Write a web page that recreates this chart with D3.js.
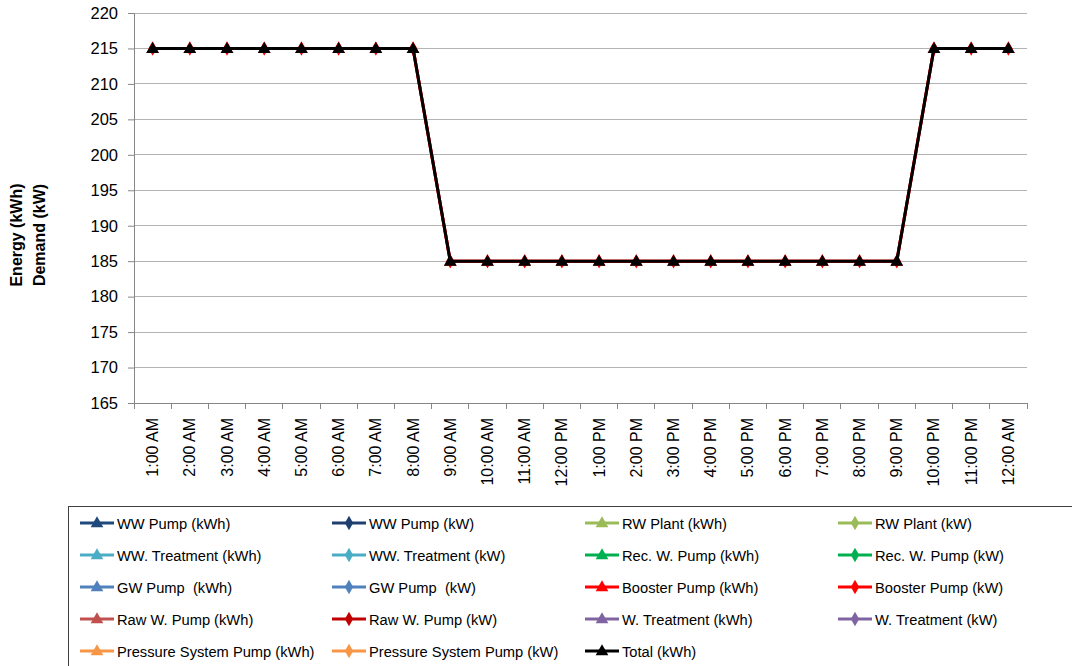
<!DOCTYPE html>
<html>
<head>
<meta charset="utf-8">
<script src="https://cdn.jsdelivr.net/npm/d3@7/dist/d3.min.js"></script>
<style>
  html, body { margin: 0; padding: 0; background: #fff; }
  svg { display: block; }
  text { font-family: "Liberation Sans", Arial, sans-serif; fill: #000; white-space: pre; }
</style>
</head>
<body>
<svg id="chart" width="1072" height="666"></svg>
<script>
// Hourly categories
const hours = ["1:00 AM","2:00 AM","3:00 AM","4:00 AM","5:00 AM","6:00 AM","7:00 AM","8:00 AM",
  "9:00 AM","10:00 AM","11:00 AM","12:00 PM","1:00 PM","2:00 PM","3:00 PM","4:00 PM",
  "5:00 PM","6:00 PM","7:00 PM","8:00 PM","9:00 PM","10:00 PM","11:00 PM","12:00 AM"];

const yTicks = [165,170,175,180,185,190,195,200,205,210,215,220];

// Series values (24 hourly values each)
const zeros = [0,0,0,0,0,0,0,0,0,0,0,0,0,0,0,0,0,0,0,0,0,0,0,0];
const wwPumpKWh = zeros, wwPumpKW = zeros;
const rwPlantKWh = zeros, rwPlantKW = zeros;
const wwTreatKWh = zeros, wwTreatKW = zeros;
const recPumpKWh = zeros, recPumpKW = zeros;
const gwPumpKWh = zeros, gwPumpKW = zeros;
const boosterKWh = [215,215,215,215,215,215,215,215,185,185,185,185,185,185,185,185,185,185,185,185,185,215,215,215];
const boosterKW  = [215,215,215,215,215,215,215,215,185,185,185,185,185,185,185,185,185,185,185,185,185,215,215,215];
const rawPumpKWh = zeros, rawPumpKW = zeros;
const wTreatKWh = zeros, wTreatKW = zeros;
const pressPumpKWh = zeros, pressPumpKW = zeros;
const totalKWh = [215,215,215,215,215,215,215,215,185,185,185,185,185,185,185,185,185,185,185,185,185,215,215,215];

const seriesNames = ["WW Pump (kWh)","WW Pump (kW)","RW Plant (kWh)","RW Plant (kW)",
  "WW. Treatment (kWh)","WW. Treatment (kW)","Rec. W. Pump (kWh)","Rec. W. Pump (kW)",
  "GW Pump  (kWh)","GW Pump  (kW)","Booster Pump (kWh)","Booster Pump (kW)",
  "Raw W. Pump (kWh)","Raw W. Pump (kW)","W. Treatment (kWh)","W. Treatment (kW)",
  "Pressure System Pump (kWh)","Pressure System Pump (kW)","Total (kWh)"];
const seriesColors = ["#1F497D","#1F3F6F","#9BBB59","#9BBB59",
  "#4BACC6","#4BACC6","#00B050","#00B050",
  "#4F81BD","#4F81BD","#FF0000","#FF0000",
  "#C0504D","#C00000","#8064A2","#8064A2",
  "#F79646","#F79646","#000000"];
const seriesMarkers = ["tri","dia","tri","dia","tri","dia","tri","dia","tri","dia","tri","dia",
  "tri","dia","tri","dia","tri","dia","tri"];
const seriesValues = [wwPumpKWh,wwPumpKW,rwPlantKWh,rwPlantKW,wwTreatKWh,wwTreatKW,
  recPumpKWh,recPumpKW,gwPumpKWh,gwPumpKW,boosterKWh,boosterKW,rawPumpKWh,rawPumpKW,
  wTreatKWh,wTreatKW,pressPumpKWh,pressPumpKW,totalKWh];

const series = seriesNames.map((name, i) => ({
  name, color: seriesColors[i], marker: seriesMarkers[i], values: seriesValues[i]
}));

const svg = d3.select("#chart");
const plot = { left: 134, right: 1027, top: 13, bottom: 403 };

const x = d3.scaleBand().domain(hours).range([plot.left, plot.right]).padding(0);
const y = d3.scaleLinear().domain([165, 220]).range([plot.bottom, plot.top]);

// Horizontal gridlines
svg.append("g").selectAll("line").data(yTicks.slice(1)).join("line")
  .attr("x1", plot.left).attr("x2", plot.right)
  .attr("y1", d => y(d)).attr("y2", d => y(d))
  .attr("stroke", "#B3B3B3").attr("stroke-width", 1).attr("shape-rendering", "crispEdges");

// Y axis
const yAxis = svg.append("g").attr("transform", `translate(${plot.left},0)`)
  .call(d3.axisLeft(y).tickValues(yTicks).tickSize(6).tickPadding(10).tickFormat(d3.format("d")));
yAxis.select(".domain").attr("stroke", "#868686");
yAxis.selectAll(".tick line").attr("stroke", "#868686");
yAxis.selectAll("text").attr("font-size", 16.5).attr("fill", "#000")
  .style("font-family", "'Liberation Sans', Arial, sans-serif");

// X axis with boundary ticks
const xAxisG = svg.append("g").attr("transform", `translate(0,${plot.bottom})`);
xAxisG.append("line").attr("x1", plot.left).attr("x2", plot.right).attr("y1", 0).attr("y2", 0)
  .attr("stroke", "#868686").attr("shape-rendering", "crispEdges");
const boundaries = hours.map(h => x(h)).concat([plot.right]);
xAxisG.selectAll("line.tk").data(boundaries).join("line").attr("class", "tk")
  .attr("x1", d => d).attr("x2", d => d).attr("y1", 0).attr("y2", 6)
  .attr("stroke", "#868686").attr("shape-rendering", "crispEdges");
xAxisG.selectAll("text").data(hours).join("text")
  .attr("transform", d => `translate(${x(d) + x.bandwidth() / 2 + 5.5},15) rotate(-90)`)
  .attr("text-anchor", "end").attr("font-size", 16)
  .text(d => d);

// Y axis title
const yTitle = svg.append("text").attr("font-weight", "bold").attr("font-size", 16)
  .attr("text-anchor", "middle")
  .attr("transform", "translate(22,235) rotate(-90)");
yTitle.append("tspan").attr("x", 0).attr("dy", 0).text("Energy (kWh)");
yTitle.append("tspan").attr("x", 0).attr("dy", 23).text("Demand (kW)");

// Lines and markers
svg.append("clipPath").attr("id", "plotClip").append("rect")
  .attr("x", plot.left - 8).attr("y", plot.top - 8)
  .attr("width", plot.right - plot.left + 16).attr("height", plot.bottom - plot.top + 8);

const cx = d => x(d) + x.bandwidth() / 2;
const line = d3.line().x((v, i) => cx(hours[i])).y(v => y(v));
const triangle = d3.symbol().type(d3.symbolTriangle).size(70);
const diamond = d3.symbol().type(d3.symbolDiamond).size(60);

const layer = svg.append("g").attr("clip-path", "url(#plotClip)");
series.forEach(s => {
  const g = layer.append("g");
  g.append("path").datum(s.values).attr("d", line)
    .attr("fill", "none").attr("stroke", s.color).attr("stroke-width", 3)
    .attr("stroke-linejoin", "round");
  g.selectAll("path.m").data(s.values).join("path").attr("class", "m")
    .attr("transform", (v, i) => `translate(${cx(hours[i])},${y(v) + (s.marker === "tri" ? 1 : 0)})`)
    .attr("d", s.marker === "tri" ? triangle : diamond)
    .attr("fill", s.color);
});

// Legend
const legend = svg.append("g");
legend.append("rect").attr("x", 68.5).attr("y", 506.5).attr("width", 1010).attr("height", 170)
  .attr("fill", "#fff").attr("stroke", "#404040").attr("stroke-width", 1);
const colX = [80, 332, 585, 838];
const rowY = [523, 555, 587, 619, 651];
series.forEach((s, i) => {
  const gx = colX[i % 4], gy = rowY[Math.floor(i / 4)];
  const g = legend.append("g").attr("transform", `translate(${gx},${gy})`);
  g.append("line").attr("x1", 0).attr("x2", 34).attr("y1", 0).attr("y2", 0)
    .attr("stroke", s.color).attr("stroke-width", 3);
  g.append("path").attr("transform", `translate(17,${s.marker === "tri" ? 0.5 : 0})`)
    .attr("d", s.marker === "tri" ? triangle : diamond).attr("fill", s.color);
  g.append("text").attr("x", 37).attr("y", 5.5).attr("font-size", 14.7).text(s.name);
});
</script>
</body>
</html>
